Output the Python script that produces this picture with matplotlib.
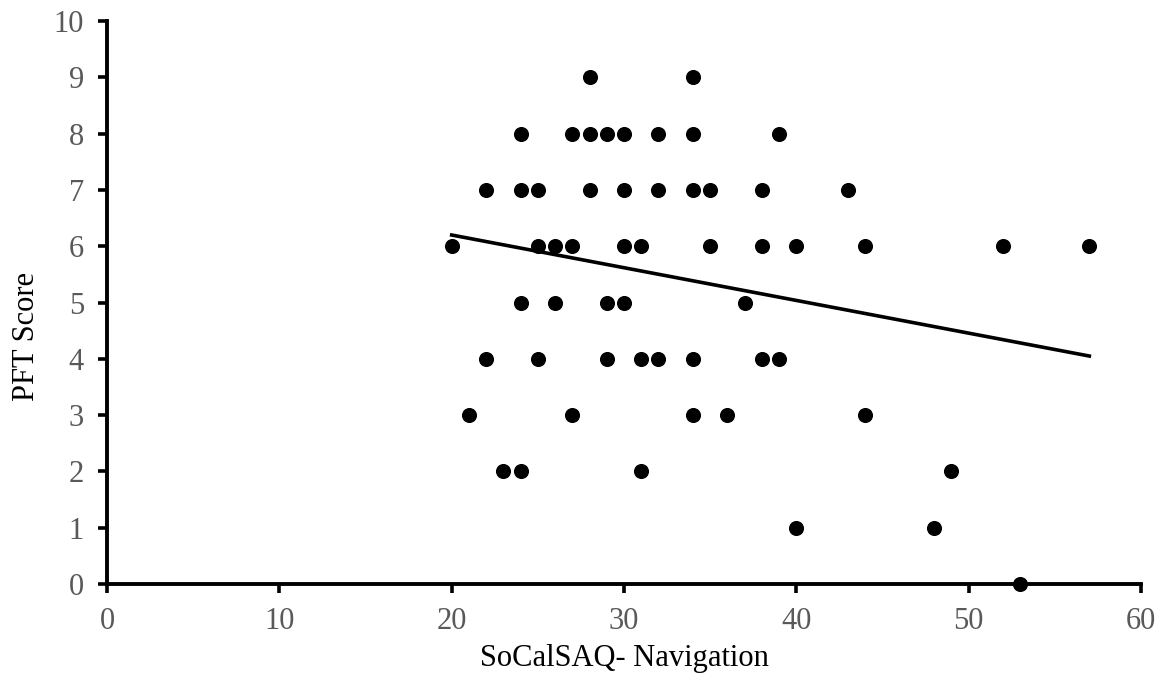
import matplotlib
matplotlib.use("Agg")
import matplotlib.pyplot as plt

# ── Data ──────────────────────────────────────────────────────────────────────
nav_scores = [20, 21, 22, 22, 23, 24, 24, 24, 24, 25, 25, 25, 26, 26,
              27, 27, 27, 28, 28, 28, 29, 29, 29, 30, 30, 30, 30,
              31, 31, 31, 32, 32, 32, 34, 34, 34, 34, 34, 35, 35,
              36, 37, 38, 38, 38, 39, 39, 40, 40, 43, 44, 44,
              48, 49, 52, 53, 57]
pft_scores = [6, 3, 7, 4, 2, 8, 7, 5, 2, 7, 6, 4, 6, 5,
              8, 6, 3, 9, 8, 7, 8, 5, 4, 8, 7, 6, 5,
              6, 4, 2, 8, 7, 4, 9, 8, 7, 4, 3, 7, 6,
              3, 5, 7, 6, 4, 8, 4, 6, 1, 7, 6, 3,
              1, 2, 6, 0, 6]

trend_x = [20, 57]
trend_y = [6.2, 4.05]

x_ticks = [0, 10, 20, 30, 40, 50, 60]
y_ticks = list(range(0, 11))

# ── Plot ──────────────────────────────────────────────────────────────────────
plt.rcParams["font.family"] = ["Liberation Serif", "DejaVu Serif"]

fig = plt.figure(figsize=(11.57, 6.81), dpi=100)
ax = fig.add_axes([0.0925, 0.1424, 0.8937, 0.8266])

ax.scatter(nav_scores, pft_scores, s=118, color="black", zorder=3,
           clip_on=False, linewidths=0)
ax.plot(trend_x, trend_y, color="black", linewidth=2.6, zorder=2)

ax.set_xlim(0, 60)
ax.set_ylim(0, 10)
ax.set_xticks(x_ticks)
ax.set_yticks(y_ticks)

ax.spines[["top", "right"]].set_visible(False)
for side in ["left", "bottom"]:
    ax.spines[side].set_linewidth(2.8)

ax.tick_params(axis="both", direction="out", length=6.5, width=2.6,
               labelsize=22, labelcolor="#595959", pad=10)

ax.set_xlabel("SoCalSAQ- Navigation", fontsize=22, labelpad=6)
ax.set_ylabel("PFT Score", fontsize=22)
ax.yaxis.set_label_coords(-0.064, 0.44)

fig.savefig("out.png", dpi=100)
